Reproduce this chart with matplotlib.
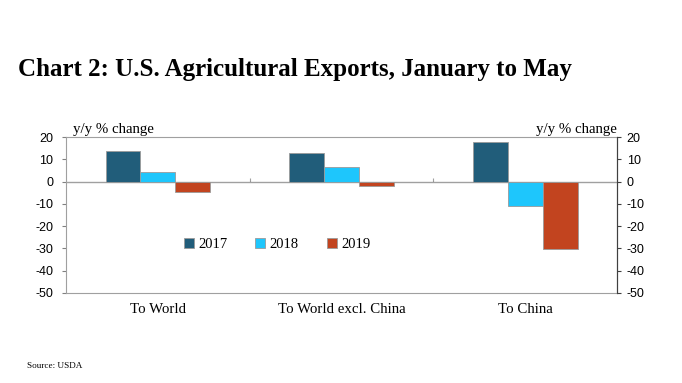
import matplotlib
matplotlib.use('Agg')
import matplotlib.pyplot as plt
import numpy as np

# y/y % change in US agricultural exports, Jan-May
categories = ['To World', 'To World excl. China', 'To China']
years = ['2017', '2018', '2019']
v2017 = [13.6, 12.9, 17.6]
v2018 = [4.4, 6.6, -11.0]
v2019 = [-4.8, -1.8, -30.3]
colors = ['#215d7a', '#1ec6fc', '#c2441f']

plt.rcParams['font.family'] = ['Liberation Serif', 'DejaVu Serif']
plt.rcParams['axes.unicode_minus'] = False

fig = plt.figure(figsize=(6.82, 3.83), dpi=100)
ax = fig.add_axes([0.0968, 0.235, 0.8079, 0.407])

x = np.arange(len(categories))
w = 0.19
for i, (vals, c, lab) in enumerate(zip([v2017, v2018, v2019], colors, years)):
    ax.bar(x + (i - 1) * w, vals, w, color=c, edgecolor='#9a9a9a', linewidth=0.6,
           label=lab, zorder=3)

ax.set_xlim(-0.5, 2.5)
ax.set_ylim(-50, 20)
ax.set_yticks(range(-50, 21, 10))
ax.tick_params(axis='y', labelsize=9, length=3, color='#808080', pad=6)
for t in ax.get_yticklabels():
    t.set_family('Liberation Sans')
ax.set_xticks(x)
ax.set_xticklabels(categories, fontsize=10.7)
ax.tick_params(axis='x', length=0, pad=7)

for s in ['top', 'bottom', 'left']:
    ax.spines[s].set_color('#a0a0a0')
    ax.spines[s].set_linewidth(0.8)
ax.spines['right'].set_color('#404040')

ax.axhline(0, color='#a0a0a0', linewidth=0.8, zorder=2)
# small tick marks on zero line at category boundaries
zero_pos = 50 / 70
sec = ax.secondary_xaxis(zero_pos)
sec.set_xticks([0.5, 1.5])
sec.set_xticklabels(['', ''])
sec.tick_params(length=3, color='#a0a0a0')
sec.spines['bottom'].set_visible(False)

ax2 = ax.twinx()
ax2.set_ylim(-50, 20)
ax2.set_yticks(range(-50, 21, 10))
ax2.tick_params(axis='y', labelsize=9, length=3, color='#404040', pad=4)
for t in ax2.get_yticklabels():
    t.set_family('Liberation Sans')
for s in ['top', 'bottom', 'left']:
    ax2.spines[s].set_visible(False)
ax2.spines['right'].set_color('#404040')

ax.text(0.012, 1.01, 'y/y % change', transform=ax.transAxes, fontsize=10.7,
        ha='left', va='bottom')
ax.text(1.0, 1.01, 'y/y % change', transform=ax.transAxes, fontsize=10.7,
        ha='right', va='bottom')

handles, labels = ax.get_legend_handles_labels()
ax.legend(handles, labels, loc='center left', bbox_to_anchor=(0.19, 0.31),
          ncol=3, frameon=False, fontsize=10.5, handlelength=0.7, handleheight=0.7,
          handletextpad=0.3, columnspacing=1.9)

fig.text(0.026, 0.818, 'Chart 2: U.S. Agricultural Exports, January to May',
         fontsize=18, fontweight='bold', ha='left', va='center')
fig.text(0.04, 0.045, 'Source: USDA', fontsize=6.6, ha='left', va='center')

fig.savefig('out.png', dpi=100)
